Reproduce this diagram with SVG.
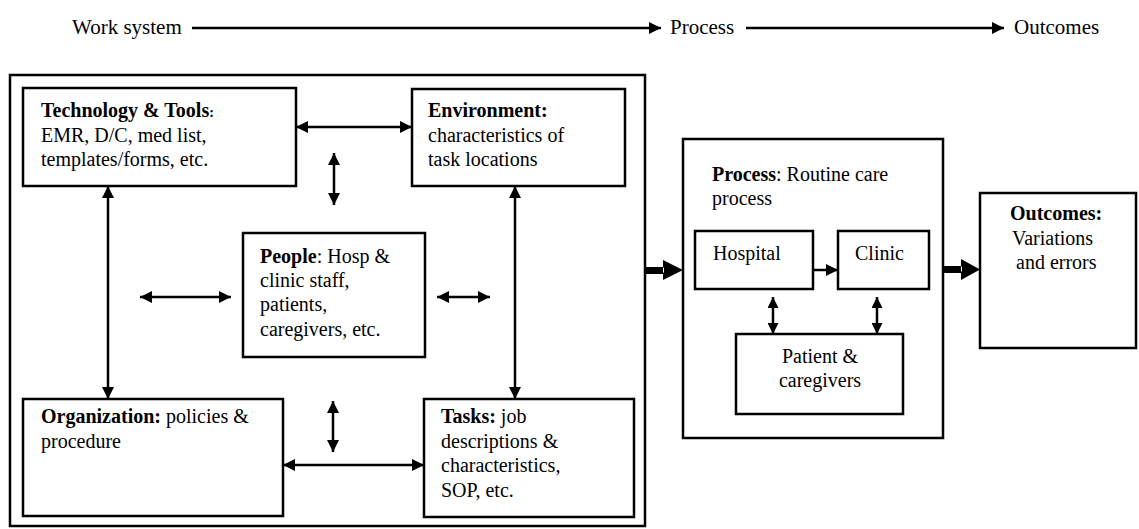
<svg xmlns="http://www.w3.org/2000/svg" width="1139" height="529" viewBox="0 0 1139 529" font-family="'Liberation Serif', Tinos, 'Times New Roman', 'DejaVu Serif', serif">
<defs>
<style>
text{font-family:'Liberation Serif',Tinos,'Times New Roman','DejaVu Serif',serif;font-size:20px;fill:#000}
.h{font-size:21px}
.b{font-weight:bold}
.box{fill:#fff;stroke:#000;stroke-width:2.5}
.ln{stroke:#000;stroke-width:2.5;fill:none}
.hd{stroke:#000;stroke-width:2.4;fill:none}
</style>
<marker id="ah" viewBox="0 0 10 10" refX="10" refY="5" markerUnits="userSpaceOnUse" markerWidth="12" markerHeight="13" orient="auto-start-reverse">
<path d="M0,0 L10,5 L0,10 z" fill="#000"/>
</marker>
<marker id="ahs" viewBox="0 0 10 10" refX="10" refY="5" markerUnits="userSpaceOnUse" markerWidth="12" markerHeight="11" orient="auto-start-reverse">
<path d="M0,0 L10,5 L0,10 z" fill="#000"/>
</marker>
</defs>

<g id="header">
<text class="h" x="72" y="34">Work system</text>
<text class="h" x="670" y="34">Process</text>
<text class="h" x="1014" y="34">Outcomes</text>
</g>

<g id="work-system">
<rect class="box" x="10" y="75" width="635" height="451"/>
</g>

<g id="technology">
<rect class="box" x="23" y="88" width="273" height="98"/>
<text x="41" y="117"><tspan class="b">Technology &amp; Tools</tspan><tspan class="b" font-size="14">:</tspan></text>
<text x="41" y="142">EMR, D/C,  med list,</text>
<text x="41" y="166">templates/forms, etc.</text>
</g>

<g id="environment">
<rect class="box" x="412" y="89" width="213" height="97"/>
<text x="428" y="117" class="b">Environment:</text>
<text x="428" y="142">characteristics of</text>
<text x="428" y="166">task locations</text>
</g>

<g id="people">
<rect class="box" x="243" y="233" width="182" height="124"/>
<text x="260" y="263"><tspan class="b">People</tspan>: Hosp &amp;</text>
<text x="260" y="287">clinic staff,</text>
<text x="260" y="311">patients,</text>
<text x="260" y="336">caregivers, etc.</text>
</g>

<g id="organization">
<rect class="box" x="23" y="399" width="260" height="117"/>
<text x="41" y="423"><tspan class="b">Organization:</tspan> policies &amp;</text>
<text x="41" y="448">procedure</text>
</g>

<g id="tasks">
<rect class="box" x="424" y="399" width="210" height="118"/>
<text x="441" y="423"><tspan class="b">Tasks:</tspan> job</text>
<text x="441" y="448">descriptions &amp;</text>
<text x="441" y="472">characteristics,</text>
<text x="441" y="497">SOP, etc.</text>
</g>

<g id="process">
<rect class="box" x="683" y="139" width="260" height="299"/>
<text x="712" y="181"><tspan class="b">Process</tspan>: Routine care</text>
<text x="712" y="205">process</text>
</g>

<g id="hospital">
<rect class="box" x="695" y="231" width="118" height="58"/>
<text x="713" y="260">Hospital</text>
</g>

<g id="clinic">
<rect class="box" x="838" y="231" width="91" height="58"/>
<text x="855" y="260">Clinic</text>
</g>

<g id="patient">
<rect class="box" x="736" y="334" width="167" height="80"/>
<text x="820" y="363" text-anchor="middle">Patient &amp;</text>
<text x="820" y="387" text-anchor="middle">caregivers</text>
</g>

<g id="outcomes">
<rect class="box" x="980" y="193" width="156" height="155"/>
<text x="1010" y="220" class="b">Outcomes:</text>
<text x="1012" y="245">Variations</text>
<text x="1016" y="269">and errors</text>
</g>

<g id="connectors">
<line class="hd" x1="192" y1="28" x2="661" y2="28" marker-end="url(#ah)"/>
<line class="hd" x1="746" y1="28" x2="1004" y2="28" marker-end="url(#ah)"/>

<line class="ln" x1="296" y1="127" x2="412" y2="127" marker-start="url(#ah)" marker-end="url(#ah)"/>
<line class="ln" x1="334" y1="153" x2="334" y2="205" marker-start="url(#ah)" marker-end="url(#ah)"/>
<line class="ln" x1="108" y1="186" x2="108" y2="399" marker-start="url(#ah)" marker-end="url(#ah)"/>
<line class="ln" x1="515" y1="186" x2="515" y2="399" marker-start="url(#ah)" marker-end="url(#ah)"/>
<line class="ln" x1="140" y1="297" x2="231" y2="297" marker-start="url(#ah)" marker-end="url(#ah)"/>
<line class="ln" x1="437" y1="297" x2="490" y2="297" marker-start="url(#ah)" marker-end="url(#ah)"/>
<line class="ln" x1="333" y1="401" x2="333" y2="452" marker-start="url(#ah)" marker-end="url(#ah)"/>
<line class="ln" x1="283" y1="465" x2="424" y2="465" marker-start="url(#ah)" marker-end="url(#ah)"/>

<line class="ln" x1="773" y1="297" x2="773" y2="334" marker-start="url(#ahs)" marker-end="url(#ahs)"/>
<line class="ln" x1="877" y1="297" x2="877" y2="334" marker-start="url(#ahs)" marker-end="url(#ahs)"/>
<line class="ln" x1="813" y1="270" x2="838" y2="270" marker-end="url(#ah)"/>

<rect x="645" y="267" width="19" height="7" fill="#000"/>
<polygon points="663,260 683,270 663,280" fill="#000"/>
<line x1="663.5" y1="267.5" x2="663.5" y2="272.5" stroke="#fff" stroke-width="1"/>

<rect x="944" y="266" width="18" height="7" fill="#000"/>
<polygon points="961,259 980,269.5 961,280" fill="#000"/>
<line x1="961.5" y1="266.5" x2="961.5" y2="271.5" stroke="#fff" stroke-width="1"/>
</g>
</svg>
